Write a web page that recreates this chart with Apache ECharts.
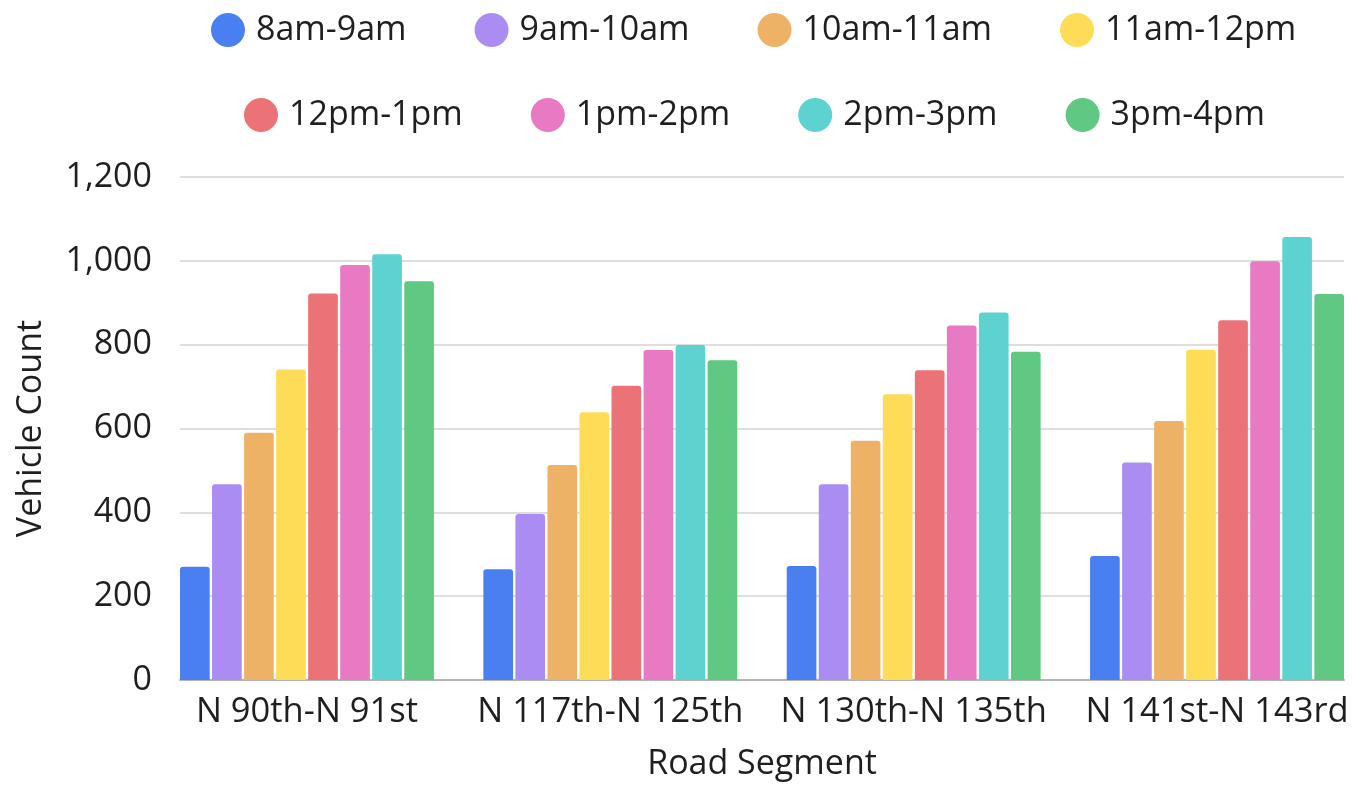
<!DOCTYPE html>
<html>
<head>
<meta charset="utf-8">
<script src="https://cdn.jsdelivr.net/npm/echarts@6/dist/echarts.min.js"></script>
<style>
  html, body { margin: 0; padding: 0; background: #fff; overflow: hidden; }
  /* a bit wider than the window so the outer category bands can run past the plot edge */
  #chart { width: 1370px; height: 789px; }
</style>
</head>
<body>
<div id="chart"></div>
<script>
const segments = ['N 90th-N 91st', 'N 117th-N 125th', 'N 130th-N 135th', 'N 141st-N 143rd']
const slots = ['8am-9am', '9am-10am', '10am-11am', '11am-12pm', '12pm-1pm', '1pm-2pm', '2pm-3pm', '3pm-4pm']

// one array per time slot, values for each road segment
const h8 = [270, 264, 272, 296]
const h9 = [467, 396, 467, 519]
const h10 = [590, 513, 571, 618]
const h11 = [741, 639, 682, 788]
const h12 = [922, 702, 739, 858]
const h13 = [990, 787, 846, 999]
const h14 = [1016, 799, 877, 1057]
const h15 = [951, 763, 783, 921]
const slotValues = [h8, h9, h10, h11, h12, h13, h14, h15]

const yTicks = [0, 200, 400, 600, 800, 1000, 1200]

const colors = ['#4A7FF2', '#AA8CF2', '#EEB267', '#FEDC57', '#EB7276', '#E77AC2', '#5CD3D0', '#5FC883']

const font = 'Open Sans'
const textColor = '#1f1f1f'

const chart = echarts.init(document.getElementById('chart'))

const legendBase = {
  orient: 'horizontal',
  icon: 'circle',
  itemWidth: 34,
  itemHeight: 34,
  itemGap: 68,
  textStyle: {
    fontFamily: font,
    fontSize: 34,
    color: textColor,
    padding: [0, 0, 0, 6]
  }
}

const option = {
  animation: false,
  color: colors,
  textStyle: { fontFamily: font },
  legend: [
    Object.assign({}, legendBase, { data: slots.slice(0, 4), left: 206, top: 8 }),
    Object.assign({}, legendBase, { data: slots.slice(4), left: 239, top: 93 })
  ],
  grid: [
    // bars: category bands run a bit past the plot edges, like the original
    { left: 155.3, top: 177, width: 1213.4, bottom: 109 },
    // axis line, grid lines and labels
    { left: 180, top: 177, right: 26, bottom: 109 }
  ],
  xAxis: [
    {
      gridIndex: 0,
      type: 'category',
      data: segments,
      axisLine: { show: false },
      axisTick: { show: false },
      axisLabel: {
        margin: 15,
        fontSize: 34.5,
        fontFamily: font,
        color: textColor,
        interval: 0
      }
    },
    {
      gridIndex: 1,
      type: 'category',
      data: segments,
      axisLine: { show: true, lineStyle: { color: '#b5b5b5', width: 2 } },
      axisTick: { show: false },
      axisLabel: { show: false },
      name: 'Road Segment',
      nameLocation: 'middle',
      nameGap: 67,
      nameTextStyle: { fontSize: 34, fontFamily: font, color: textColor }
    }
  ],
  yAxis: [
    {
      gridIndex: 0,
      type: 'value',
      min: yTicks[0],
      max: yTicks[yTicks.length - 1],
      show: false
    },
    {
      gridIndex: 1,
      type: 'value',
      min: yTicks[0],
      max: yTicks[yTicks.length - 1],
      interval: yTicks[1] - yTicks[0],
      axisLine: { show: false },
      axisTick: { show: false },
      axisLabel: {
        margin: 28,
        fontSize: 34,
        fontFamily: font,
        color: textColor,
        formatter: v => v.toLocaleString('en-US')
      },
      splitLine: { lineStyle: { color: '#d3d3d3', width: 1.5 } },
      name: 'Vehicle Count',
      nameLocation: 'middle',
      nameGap: 132,
      nameTextStyle: { fontSize: 34, fontFamily: font, color: textColor }
    }
  ],
  series: slots.map((name, i) => ({
    name: name,
    type: 'bar',
    xAxisIndex: 0,
    yAxisIndex: 0,
    barGap: '8%',
    barCategoryGap: '16.3%',
    itemStyle: { borderRadius: [3, 3, 0, 0] },
    data: slotValues[i]
  }))
}

chart.setOption(option)
</script>
</body>
</html>
